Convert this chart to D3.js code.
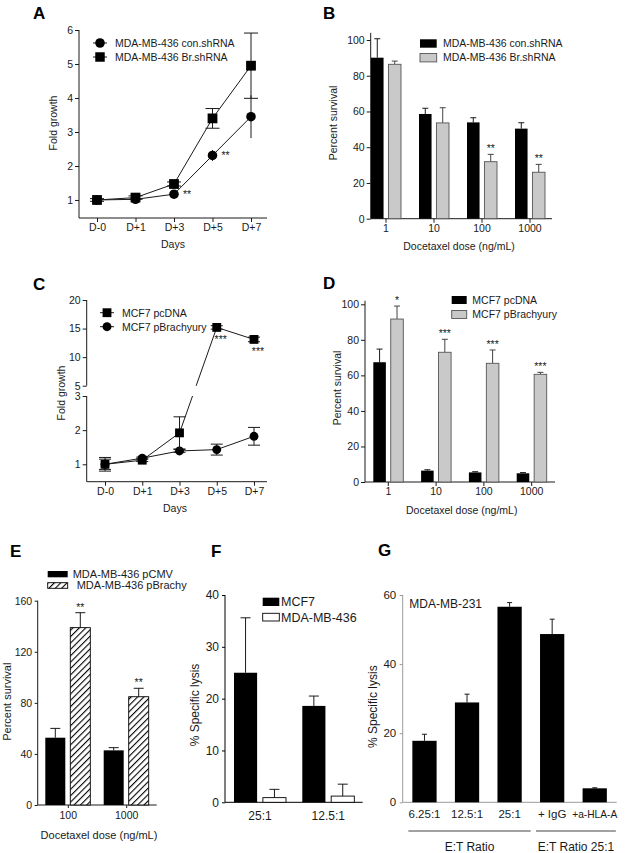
<!DOCTYPE html>
<html>
<head>
<meta charset="utf-8">
<script src="https://cdn.jsdelivr.net/npm/d3@7"></script>
<style>
  body { margin: 0; background: #fff; }
  svg { display: block; font-family: "Liberation Sans", Arial, sans-serif; }
</style>
</head>
<body>
<svg id="fig" width="626" height="853"></svg>
<script>
// ---- data ----
const days = ["D-0", "D+1", "D+3", "D+5", "D+7"];
const doses = ["1", "10", "100", "1000"];

// A: fold growth, MDA-MB-436
const aConMean = [1.0, 1.02, 1.17, 2.31, 3.45];
const aConErr  = [0.03, 0.03, 0.04, 0.16, 0.63];
const aBrMean  = [1.0, 1.07, 1.47, 3.4, 4.95];
const aBrErr   = [0.04, 0.05, 0.06, 0.29, 0.96];
const aStars   = ["", "", "**", "**", ""];

// B: percent survival, MDA-MB-436 shRNA
const bConMean = [90.1, 58.6, 53.9, 50.4];
const bConErr  = [10.6, 3.2, 2.6, 3.3];
const bBrMean  = [86.4, 53.6, 31.9, 26.0];
const bBrErr   = [1.8, 8.5, 4.1, 4.4];
const bStars   = ["", "", "**", "**"];

// C: fold growth, MCF7
const cDnaMean = [1.0, 1.12, 1.92, 15.2, 13.1];
const cDnaErr  = [0.2, 0.04, 0.47, 0.3, 0.4];
const cBraMean = [1.0, 1.18, 1.39, 1.43, 1.82];
const cBraErr  = [0.15, 0.03, 0.04, 0.16, 0.26];
const cStars   = ["", "", "", "***", "***"];

// D: percent survival, MCF7
const dDnaMean = [67.4, 6.4, 5.4, 4.9];
const dDnaErr  = [7.4, 0.5, 0.4, 0.4];
const dBraMean = [91.7, 73.0, 66.8, 60.6];
const dBraErr  = [7.3, 7.3, 7.5, 1.1];
const dStars   = ["*", "***", "***", "***"];

// E: percent survival, MDA-MB-436 pCMV / pBrachy
const eDoses      = ["100", "1000"];
const ePcmvMean   = [52.7, 42.8];
const ePcmvErr    = [7.3, 2.1];
const eBrachyMean = [138.9, 84.8];
const eBrachyErr  = [11.7, 6.6];
const eStars      = ["**", "**"];

// F: specific lysis
const fRatios  = ["25:1", "12.5:1"];
const fMcfMean = [25.0, 18.6];
const fMcfErr  = [10.6, 1.9];
const fMdaMean = [0.9, 1.2];
const fMdaErr  = [1.6, 2.3];

// G: specific lysis, MDA-MB-231
const gLabels = ["6.25:1", "12.5:1", "25:1", "+ IgG", "+a-HLA-A"];
const gMean   = [17.8, 28.9, 56.6, 48.7, 4.05];
const gErr    = [1.9, 2.4, 1.2, 4.3, 0.15];
const gGroups = ["E:T Ratio", "E:T Ratio 25:1"];
const gGroupMembers = [[0, 2], [3, 4]];

const svg = d3.select("#fig");
const INK = "#1a1a1a";

// hatch for panel E
svg.append("defs").append("pattern")
  .attr("id", "hatch").attr("patternUnits", "userSpaceOnUse")
  .attr("width", 4.5).attr("height", 4.5)
  .attr("patternTransform", "rotate(45)")
  .call(p => {
    p.append("rect").attr("width", 4.5).attr("height", 4.5).attr("fill", "#fff");
    p.append("line").attr("x1", 0).attr("y1", 0).attr("x2", 0).attr("y2", 4.5)
      .attr("stroke", "#000").attr("stroke-width", 2.2);
  });

function text(x, y, s, o = {}) {
  const t = svg.append("text").attr("x", x).attr("y", y).text(s)
    .attr("font-size", o.size || 10.5).attr("fill", o.fill || INK)
    .attr("text-anchor", o.anchor || "start");
  if (o.rotate) t.attr("transform", `rotate(-90,${x},${y})`);
  if (o.bold) t.attr("font-weight", "bold");
  return t;
}

function panelLabel(x, y, s) { text(x, y, s, { size: 17, bold: true, fill: "#000" }); }

function leftAxis(x, y, ticks, bottom, top, o = {}) {
  const col = o.color || INK;
  const g = svg.append("g").attr("transform", `translate(${x},0)`)
    .call(d3.axisLeft(y).tickValues(ticks).tickSize(o.tick || 4).tickPadding(o.pad || 2).tickFormat(d3.format("d")))
    .attr("font-family", null).attr("font-size", o.size || 10.5);
  g.select(".domain").remove();
  g.selectAll(".tick line").attr("stroke", col);
  g.selectAll(".tick text").attr("fill", INK);
  g.append("line").attr("y1", bottom).attr("y2", top).attr("stroke", col);
  return g;
}

function bottomAxis(y, x, x0, x1, o = {}) {
  const col = o.color || INK;
  const g = svg.append("g").attr("transform", `translate(0,${y})`)
    .call(d3.axisBottom(x).tickSize(o.tick === undefined ? 4 : o.tick).tickPadding(o.pad || 2))
    .attr("font-family", null).attr("font-size", o.size || 10.5);
  g.select(".domain").remove();
  g.selectAll(".tick line").attr("stroke", col);
  g.selectAll(".tick text").attr("fill", INK);
  g.append("line").attr("x1", x0).attr("x2", x1).attr("stroke", col);
  return g;
}

function lineSeries(x, y, mean, err, shape, size, cap, clip) {
  const pts = days.map((d, i) => ({ d, m: mean[i], e: err[i] }));
  const g = svg.append("g");
  g.append("path").datum(pts)
    .attr("d", d3.line().x(p => x(p.d)).y(p => y(p.m)))
    .attr("fill", "none").attr("stroke", INK).attr("stroke-width", 1)
    .attr("clip-path", clip ? `url(#${clip})` : null);
  g.selectAll(".ev").data(pts).join("line").attr("class", "ev")
    .attr("x1", p => x(p.d)).attr("x2", p => x(p.d))
    .attr("y1", p => y(p.m - p.e)).attr("y2", p => y(p.m + p.e)).attr("stroke", INK);
  [-1, 1].forEach(sg => {
    g.selectAll(".cap" + (sg + 1)).data(pts).join("line").attr("class", "cap" + (sg + 1))
      .attr("x1", p => x(p.d) - cap).attr("x2", p => x(p.d) + cap)
      .attr("y1", p => y(p.m + sg * p.e)).attr("y2", p => y(p.m + sg * p.e)).attr("stroke", INK);
  });
  g.selectAll(".mk").data(pts).join("path").attr("class", "mk")
    .attr("transform", p => `translate(${x(p.d)},${y(p.m)})`)
    .attr("d", d3.symbol(shape, size)).attr("fill", "#000");
}

function lineLegend(x, y, shape, size, label) {
  svg.append("line").attr("x1", x - 7).attr("x2", x + 7).attr("y1", y).attr("y2", y).attr("stroke", INK);
  svg.append("path").attr("transform", `translate(${x},${y})`).attr("d", d3.symbol(shape, size)).attr("fill", "#000");
  text(x + 15, y + 3.8, label);
}

function barSeries(x, xi, y, cats, s) {
  const rows = cats.map((c, i) => ({ c, m: s.mean[i], e: s.err[i], star: s.stars ? s.stars[i] : "" }));
  const left = d => x(d.c) + x.bandwidth() / 2 + xi(s.key);
  const mid = d => left(d) + xi.bandwidth() / 2;
  const g = svg.append("g");
  g.selectAll(".ev").data(rows).join("line").attr("class", "ev")
    .attr("x1", mid).attr("x2", mid)
    .attr("y1", d => y(d.m)).attr("y2", d => y(d.m + d.e)).attr("stroke", s.errColor || INK);
  g.selectAll(".cap").data(rows).join("line").attr("class", "cap")
    .attr("x1", d => mid(d) - s.cap).attr("x2", d => mid(d) + s.cap)
    .attr("y1", d => y(d.m + d.e)).attr("y2", d => y(d.m + d.e)).attr("stroke", s.errColor || INK);
  g.selectAll("rect").data(rows).join("rect")
    .attr("x", left).attr("width", xi.bandwidth())
    .attr("y", d => y(d.m)).attr("height", d => y(0) - y(d.m))
    .attr("fill", s.fill).attr("stroke", s.stroke || "none").attr("stroke-width", s.stroke ? 0.9 : 0);
  g.selectAll("text").data(rows.filter(d => d.star)).join("text")
    .attr("x", mid).attr("y", d => y(d.m + d.e) - 2)
    .attr("text-anchor", "middle").attr("font-size", 10.5).attr("fill", INK)
    .text(d => d.star);
}

function rectLegend(x, y, w, h, fill, stroke, label, tx, size) {
  svg.append("rect").attr("x", x).attr("y", y).attr("width", w).attr("height", h)
    .attr("fill", fill).attr("stroke", stroke || "none").attr("stroke-width", stroke ? 0.9 : 0);
  text(tx, y + h / 2 + (size || 10.5) * 0.36, label, { size: size || 10.5 });
}

// ---------- A ----------
panelLabel(33, 18.5, "A");
const xA = d3.scalePoint().domain(days).range([97, 251]);
const yA = d3.scaleLinear().domain([0.47, 6]).range([218, 30]);
leftAxis(79, yA, [1, 2, 3, 4, 5, 6], 218, 30);
bottomAxis(218, xA, 79, 267);
lineSeries(xA, yA, aConMean, aConErr, d3.symbolCircle, 72);
lineSeries(xA, yA, aBrMean, aBrErr, d3.symbolSquare, 96, 7);
svg.selectAll(".aStar").data(days.filter((d, i) => aStars[i])).join("text")
  .attr("x", d => xA(d) + 9).attr("y", d => yA(aConMean[days.indexOf(d)]) + 3.5)
  .attr("font-size", 10.5).attr("fill", INK).text("**");
lineLegend(100, 43, d3.symbolCircle, 72, "MDA-MB-436 con.shRNA");
lineLegend(100, 57, d3.symbolSquare, 90, "MDA-MB-436 Br.shRNA");
text(173, 248, "Days", { anchor: "middle" });
text(57, 123, "Fold growth", { anchor: "middle", rotate: true });

// ---------- B ----------
panelLabel(323, 18.5, "B");
const xB = d3.scaleBand().domain(doses).range([362, 554]);
const xBi = d3.scaleBand().domain(["con", "br"]).range([-15, 15]).paddingInner(0.28);
const yB = d3.scaleLinear().domain([0, 100]).range([218.7, 40]);
leftAxis(370.7, yB, [0, 20, 40, 60, 80, 100], 218.7, yB(104));
bottomAxis(218.7, xB, 370.7, 552);
barSeries(xB, xBi, yB, doses, { key: "con", mean: bConMean, err: bConErr, fill: "#000", cap: 3 });
barSeries(xB, xBi, yB, doses, { key: "br", mean: bBrMean, err: bBrErr, fill: "#c9c9c9", stroke: "#555", errColor: "#444", cap: 3, stars: bStars });
rectLegend(420, 39.3, 16.7, 8.4, "#000", null, "MDA-MB-436 con.shRNA", 443);
rectLegend(420, 53.5, 16.7, 8.4, "#c9c9c9", "#555", "MDA-MB-436 Br.shRNA", 443);
text(459, 249.7, "Docetaxel dose (ng/mL)", { anchor: "middle" });
text(337, 123, "Percent survival", { anchor: "middle", rotate: true });

// ---------- C ----------
panelLabel(33, 290, "C");
const xC = d3.scalePoint().domain(days).range([105, 254]);
const yCl = d3.scaleLinear().domain([0.49, 3]).range([481.7, 396]);
const yCu = d3.scaleLinear().domain([5, 20]).range([385.7, 300]);
const yC = v => (v > 4 ? yCu(v) : yCl(v));
const clip = svg.append("clipPath").attr("id", "cgap");
clip.append("rect").attr("x", 0).attr("y", 0).attr("width", 626).attr("height", yCu(5));
clip.append("rect").attr("x", 0).attr("y", yCl(3)).attr("width", 626).attr("height", 853 - yCl(3));
leftAxis(86.7, yCl, [1, 2, 3], 481.7, yCl(3));
leftAxis(86.7, yCu, [5, 10, 15, 20], yCu(5), yCu(20));
bottomAxis(481.7, xC, 86.7, 267);
lineSeries(xC, yC, cBraMean, cBraErr, d3.symbolCircle, 62, 6, "cgap");
lineSeries(xC, yC, cDnaMean, cDnaErr, d3.symbolSquare, 78, 6, "cgap");
svg.selectAll(".cStar").data(days.filter((d, i) => cStars[i])).join("text")
  .attr("x", d => xC(d) + 4).attr("y", d => yC(cDnaMean[days.indexOf(d)]) + 16)
  .attr("text-anchor", "middle").attr("font-size", 10.5).attr("fill", INK).text("***");
lineLegend(107, 312.7, d3.symbolSquare, 78, "MCF7 pcDNA");
lineLegend(107, 326.7, d3.symbolCircle, 62, "MCF7 pBrachyury");
text(175, 512, "Days", { anchor: "middle" });
text(65, 393, "Fold growth", { anchor: "middle", rotate: true });

// ---------- D ----------
panelLabel(323, 288.5, "D");
const xD = d3.scaleBand().domain(doses).range([364.4, 555.6]);
const yD = d3.scaleLinear().domain([0, 100]).range([482, 304.3]);
leftAxis(365, yD, [0, 20, 40, 60, 80, 100], 482, yD(102));
bottomAxis(482, xD, 365, 555);
barSeries(xD, xBi, yD, doses, { key: "con", mean: dDnaMean, err: dDnaErr, fill: "#000", cap: 3 });
barSeries(xD, xBi, yD, doses, { key: "br", mean: dBraMean, err: dBraErr, fill: "#c9c9c9", stroke: "#555", errColor: "#444", cap: 3, stars: dStars });
rectLegend(451.7, 296, 15, 8, "#000", null, "MCF7 pcDNA", 472.3);
rectLegend(451.7, 310.5, 15, 8, "#c9c9c9", "#555", "MCF7 pBrachyury", 472.3);
text(461.7, 513.7, "Docetaxel dose (ng/mL)", { anchor: "middle" });
text(341, 388, "Percent survival", { anchor: "middle", rotate: true });

// ---------- E ----------
panelLabel(10, 557, "E");
const xE = d3.scaleBand().domain(eDoses).range([39.1, 155.9]);
const xEi = d3.scaleBand().domain(["pcmv", "brachy"]).range([-23, 22]).paddingInner(0.2);
const yE = d3.scaleLinear().domain([0, 160]).range([805, 600.7]);
leftAxis(37.7, yE, [0, 40, 80, 120, 160], 805, yE(160), { tick: 3, pad: 2.5 });
bottomAxis(805, xE, 37.7, 156.7, { tick: 3, pad: 4 });
barSeries(xE, xEi, yE, eDoses, { key: "pcmv", mean: ePcmvMean, err: ePcmvErr, fill: "#000", cap: 5 });
barSeries(xE, xEi, yE, eDoses, { key: "brachy", mean: eBrachyMean, err: eBrachyErr, fill: "url(#hatch)", stroke: "#000", cap: 5, stars: eStars });
rectLegend(47.7, 571, 20, 6.3, "#000", null, "MDA-MB-436 pCMV", 72.7, 11);
rectLegend(47.7, 582.7, 20, 5.6, "url(#hatch)", "#000", "MDA-MB-436 pBrachy", 76.7, 11);
text(99, 839, "Docetaxel dose (ng/mL)", { anchor: "middle", size: 11 });
text(11.3, 701.7, "Percent survival", { anchor: "middle", rotate: true, size: 11 });

// ---------- F ----------
panelLabel(211, 557, "F");
const xF = d3.scaleBand().domain(fRatios).range([225.85, 362.45]);
const xFi = d3.scaleBand().domain(["mcf", "mda"]).range([-26, 26]).paddingInner(0.2);
const yF = d3.scaleLinear().domain([0, 40]).range([802.3, 595]);
leftAxis(225, yF, [0, 10, 20, 30, 40], 802.3, 595, { tick: 3, pad: 3, size: 12, color: "#000" });
bottomAxis(802.3, xF, 225, 362.7, { tick: 0, pad: 9, size: 12, color: "#000" });
barSeries(xF, xFi, yF, fRatios, { key: "mcf", mean: fMcfMean, err: fMcfErr, fill: "#000", cap: 5 });
barSeries(xF, xFi, yF, fRatios, { key: "mda", mean: fMdaMean, err: fMdaErr, fill: "#fff", stroke: "#000", cap: 5 });
rectLegend(262.7, 597.7, 16.6, 8.3, "#000", null, "MCF7", 281, 12.5);
rectLegend(262.7, 613.3, 16.6, 7.7, "#fff", "#000", "MDA-MB-436", 281, 12.5);
text(198.5, 705, "% Specific lysis", { anchor: "middle", rotate: true, size: 12 });

// ---------- G ----------
panelLabel(378, 556, "G");
const xG = d3.scaleBand().domain(gLabels).range([403.2, 616]).paddingInner(0.43).paddingOuter(0.215);
const xGi = d3.scaleBand().domain(["v"]).range([-xG.bandwidth() / 2, xG.bandwidth() / 2]);
const yG = d3.scaleLinear().domain([0, 60]).range([802.3, 595]);
leftAxis(402.7, yG, [0, 20, 40, 60], 802.3, 595, { tick: 3, pad: 3.5, size: 11.5, color: "#9a9a9a" });
const gx = bottomAxis(802.3, xG, 402.7, 616.7, { tick: 0, pad: 8, size: 11.5, color: "#9a9a9a" });
gx.selectAll(".tick text").filter(d => d === "+a-HLA-A").attr("textLength", 45).attr("lengthAdjust", "spacingAndGlyphs");
barSeries(xG, xGi, yG, gLabels, { key: "v", mean: gMean, err: gErr, fill: "#000", cap: 2.5 });
text(409.3, 607.5, "MDA-MB-231", { size: 12 });
gGroupMembers.forEach((m, i) => {
  const x0 = xG(gLabels[m[0]]) - 4;
  const x1 = xG(gLabels[m[1]]) + xG.bandwidth() + 9;
  svg.append("line").attr("x1", x0).attr("x2", x1).attr("y1", 831).attr("y2", 831).attr("stroke", "#444");
  text((x0 + x1) / 2, 851.3, gGroups[i], { anchor: "middle", size: 12 });
});
text(377.5, 706.7, "% Specific lysis", { anchor: "middle", rotate: true, size: 12 });
</script>
</body>
</html>
